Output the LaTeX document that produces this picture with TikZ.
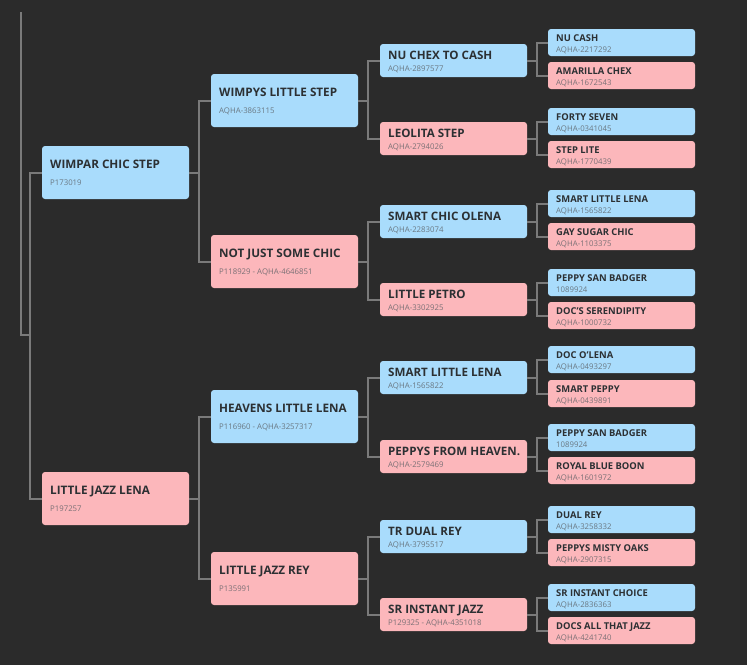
\documentclass[tikz,border=0pt]{standalone}
\usepackage{fontspec}
\setmainfont{Open Sans}
\definecolor{bg}{HTML}{2B2B2B}
\definecolor{wire}{HTML}{7A7A7A}
\definecolor{sire}{HTML}{A9DCFC}
\definecolor{dam}{HTML}{FCB7BB}
\definecolor{ttl}{HTML}{2C3033}
\definecolor{subc}{HTML}{5A5F64}
\tikzset{
  box/.style={rectangle, rounded corners=3pt, inner sep=0pt, outer sep=0pt, anchor=north west, draw=none},
  gAbox/.style={minimum width=147pt, minimum height=53pt},
  gBbox/.style={minimum width=147pt, minimum height=33pt},
  gCbox/.style={minimum width=147pt, minimum height=27pt},
  ttlbase/.style={anchor=base west, inner sep=0pt, text=ttl, xshift=8pt},
  subbase/.style={anchor=base west, inner sep=0pt, text=subc, text opacity=0.8, xshift=8pt, font=\fontsize{7.8}{9}\selectfont},
  gAtitle/.style={ttlbase, yshift=-22.6pt, font=\bfseries\fontsize{11.7}{13}\selectfont},
  gAsub/.style={subbase, yshift=-39.7pt},
  gBtitle/.style={ttlbase, yshift=-15.6pt, font=\bfseries\fontsize{11.6}{13}\selectfont},
  gBsub/.style={subbase, yshift=-27.8pt},
  gCtitle/.style={ttlbase, yshift=-12.8pt, font=\bfseries\fontsize{9.4}{11}\selectfont},
  gCsub/.style={subbase, yshift=-23.8pt},
  wirel/.style={draw=wire, line width=2pt},
}
\newcommand\horse[7]{%
  \node[box,#4box,fill=#5] (#1) at (#2,#3) {};
  \node[#4title] (#1-t) at (#1.north west) {#6};
  \node[#4sub] (#1-s) at (#1.north west) {#7};
}
\begin{document}
\begin{tikzpicture}[x=1pt,y=-1pt]
\fill[bg] (0,0) rectangle (747,665);
\useasboundingbox (0,0) rectangle (747,665);

% generation 1
\horse{a1}{42}{146}{gA}{sire}{WIMPAR CHIC STEP}{P173019}
\horse{a2}{42}{472}{gA}{dam}{LITTLE JAZZ LENA}{P197257}
% generation 2
\horse{b1}{211}{74}{gA}{sire}{WIMPYS LITTLE STEP}{AQHA-3863115}
\horse{b2}{211}{235}{gA}{dam}{NOT JUST SOME CHIC}{P118929 - AQHA-4646851}
\horse{b3}{211}{390}{gA}{sire}{HEAVENS LITTLE LENA}{P116960 - AQHA-3257317}
\horse{b4}{211}{552}{gA}{dam}{LITTLE JAZZ REY}{P135991}
% generation 3
\horse{c1}{380}{44}{gB}{sire}{NU CHEX TO CASH}{AQHA-2897577}
\horse{c2}{380}{122}{gB}{dam}{LEOLITA STEP}{AQHA-2794026}
\horse{c3}{380}{205}{gB}{sire}{SMART CHIC OLENA}{AQHA-2283074}
\horse{c4}{380}{283}{gB}{dam}{LITTLE PETRO}{AQHA-3302925}
\horse{c5}{380}{361}{gB}{sire}{SMART LITTLE LENA}{AQHA-1565822}
\horse{c6}{380}{440}{gB}{dam}{PEPPYS FROM HEAVEN.}{AQHA-2579469}
\horse{c7}{380}{520}{gB}{sire}{TR DUAL REY}{AQHA-3795517}
\horse{c8}{380}{598}{gB}{dam}{SR INSTANT JAZZ}{P129325 - AQHA-4351018}
% generation 4
\horse{d1}{548}{29}{gC}{sire}{NU CASH}{AQHA-2217292}
\horse{d2}{548}{62}{gC}{dam}{AMARILLA CHEX}{AQHA-1672543}
\horse{d3}{548}{108}{gC}{sire}{FORTY SEVEN}{AQHA-0341045}
\horse{d4}{548}{141}{gC}{dam}{STEP LITE}{AQHA-1770439}
\horse{d5}{548}{190}{gC}{sire}{SMART LITTLE LENA}{AQHA-1565822}
\horse{d6}{548}{223}{gC}{dam}{GAY SUGAR CHIC}{AQHA-1103375}
\horse{d7}{548}{269}{gC}{sire}{PEPPY SAN BADGER}{1089924}
\horse{d8}{548}{302}{gC}{dam}{DOC'S SERENDIPITY}{AQHA-1000732}
\horse{d9}{548}{346}{gC}{sire}{DOC O'LENA}{AQHA-0493297}
\horse{d10}{548}{380}{gC}{dam}{SMART PEPPY}{AQHA-0439891}
\horse{d11}{548}{424}{gC}{sire}{PEPPY SAN BADGER}{1089924}
\horse{d12}{548}{457}{gC}{dam}{ROYAL BLUE BOON}{AQHA-1601972}
\horse{d13}{548}{506}{gC}{sire}{DUAL REY}{AQHA-3258332}
\horse{d14}{548}{539}{gC}{dam}{PEPPYS MISTY OAKS}{AQHA-2907315}
\horse{d15}{548}{584}{gC}{sire}{SR INSTANT CHOICE}{AQHA-2836363}
\horse{d16}{548}{617}{gC}{dam}{DOCS ALL THAT JAZZ}{AQHA-4241740}

% root connector
\coordinate (root) at (21,12);
\coordinate (rootbend) at (30,335);
\draw[wirel] (root) |- (rootbend);
\draw[wirel] (rootbend) |- (a1.west);
\draw[wirel] (rootbend) |- (a2.west);

% parent to child connectors
\foreach \p/\m/\f in {a1/b1/b2, a2/b3/b4,
  b1/c1/c2, b2/c3/c4, b3/c5/c6, b4/c7/c8,
  c1/d1/d2, c2/d3/d4, c3/d5/d6, c4/d7/d8,
  c5/d9/d10, c6/d11/d12, c7/d13/d14, c8/d15/d16}{
  \draw[wirel] (\p.east) -- ++(10,0) |- (\m.west);
  \draw[wirel] (\p.east) -- ++(10,0) |- (\f.west);
}
\end{tikzpicture}
\end{document}
